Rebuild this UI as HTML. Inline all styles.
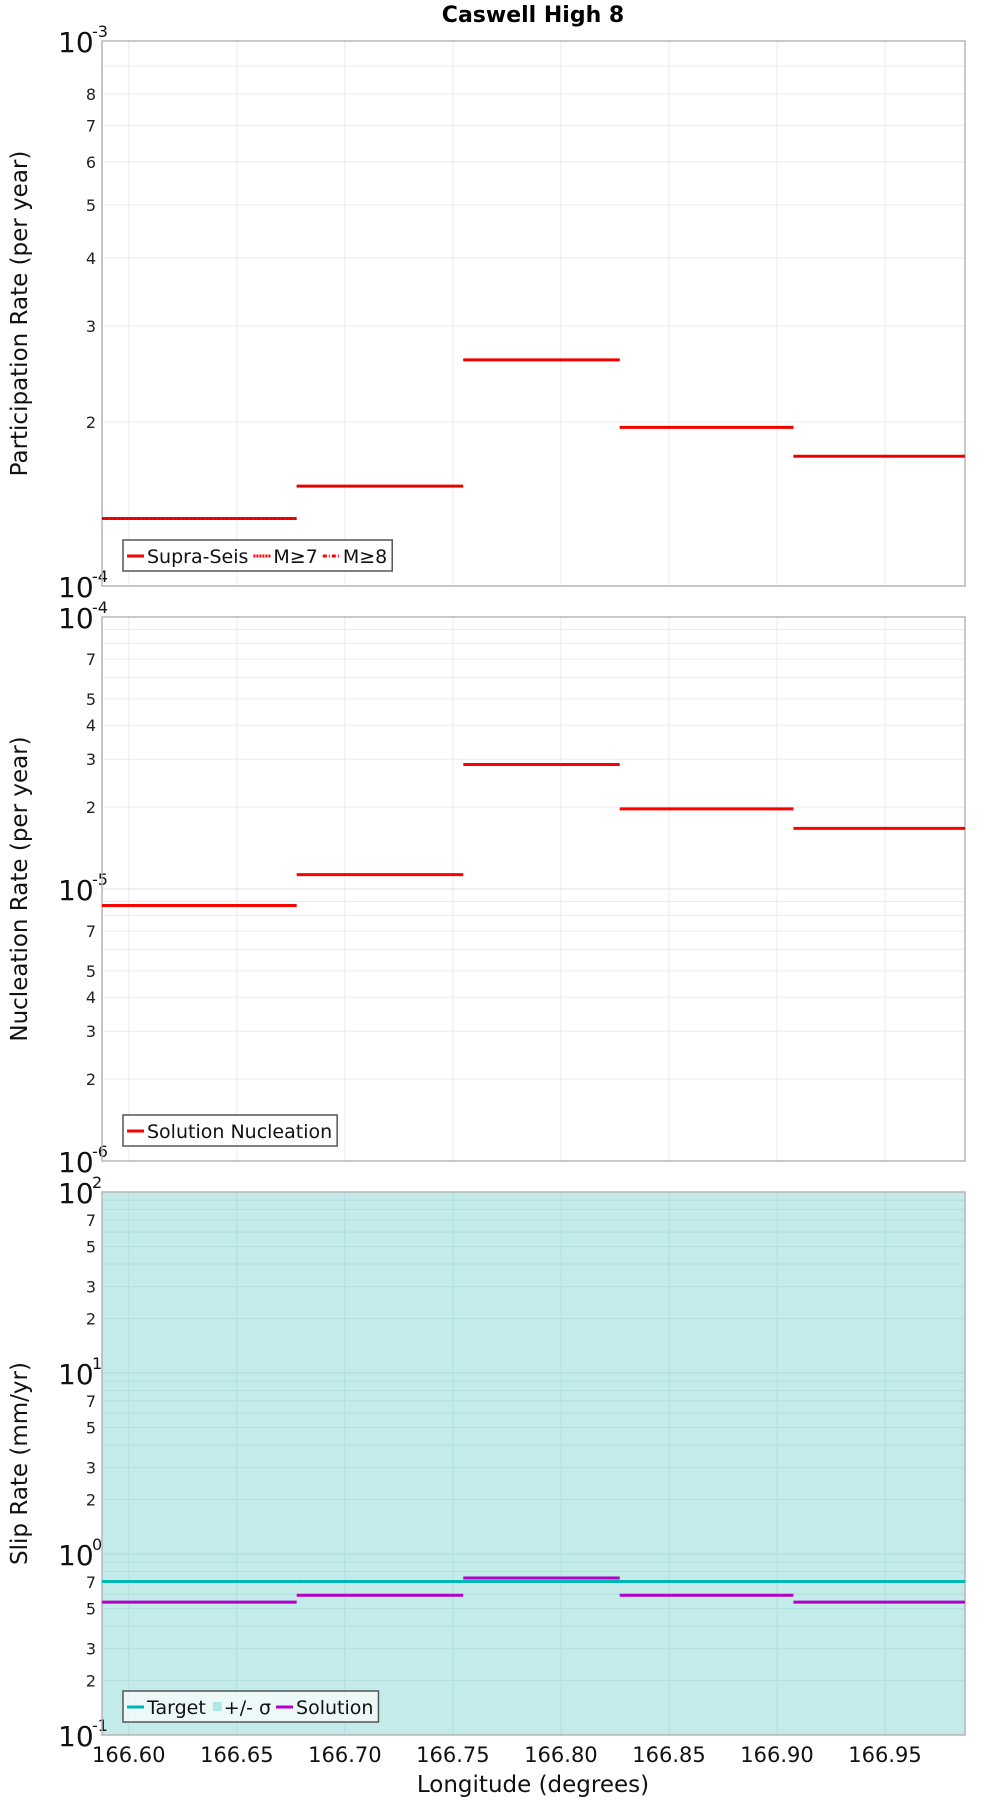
<!DOCTYPE html>
<html><head><meta charset="utf-8"><style>
body{margin:0;background:#fff;width:1000px;height:1800px;overflow:hidden}
svg{display:block;font-family:"DejaVu Sans","Liberation Sans",sans-serif}
</style></head><body>
<svg id="chart" width="1000" height="1800" viewBox="0 0 1000 1800" xmlns="http://www.w3.org/2000/svg">
<text x="533" y="22" text-anchor="middle" font-size="22" font-weight="bold" font-family="DejaVu Sans, sans-serif">Caswell High 8</text>
</svg>
<script>
const boundaries=[166.5876,166.6777,166.7548,166.8272,166.9076,166.987];
const partValues=[1.33e-4,1.525e-4,2.60e-4,1.955e-4,1.73e-4];
const nuclValues=[8.7e-6,1.13e-5,2.87e-5,1.97e-5,1.67e-5];
const slipTarget=[0.705,0.705,0.705,0.705,0.705];
const slipSolution=[0.542,0.592,0.737,0.592,0.542];
const xTicks=[166.60,166.65,166.70,166.75,166.80,166.85,166.90,166.95];
const xTickLabels=["166.60","166.65","166.70","166.75","166.80","166.85","166.90","166.95"];

const NS="http://www.w3.org/2000/svg";
const svg=document.getElementById('chart');
const L=102,R=965,X0=166.5876,X1=166.987;
function xs(v){return L+(v-X0)/(X1-X0)*(R-L);}
function mk(tag,attrs,parent){const e=document.createElementNS(NS,tag);for(const k in attrs)e.setAttribute(k,attrs[k]);(parent||svg).appendChild(e);return e;}

function panel(name,top,bot,e0,e1,labeled,bg,title){
  const ys=v=>bot-(Math.log10(v)-e0)/(e1-e0)*(bot-top);
  const g=mk('g',{});
  
  
  mk('rect',{x:L,y:top,width:R-L,height:bot-top,fill:bg},g);
  for(let e=e0;e<e1;e++){for(let m=1;m<10;m++){const v=m*Math.pow(10,e);const y=ys(v);
    if(m>1){const gl=mk('line',{x1:L,x2:R,y1:y,y2:y,stroke:bg=='#fff'?'#ebebeb':'#b3dedc','stroke-width':1},g);
      
      }
    if(m>1&&labeled.includes(m)){const t=mk('text',{x:96,y:y+6,'text-anchor':'end','font-size':16,fill:'#222'},g);t.textContent=m;
      
      }
  }}
  for(let e=e0;e<=e1;e++){const y=ys(Math.pow(10,e));
    if(e>e0&&e<e1){mk('line',{x1:L,x2:R,y1:y,y2:y,stroke:bg=='#fff'?'#e3e3e3':'#acd8d6'},g);}
    const t=mk('text',{x:58,y:y+11,'font-size':28,fill:'#111'},g);t.textContent='10';
    
    
    const s=mk('text',{x:92,y:y-4,'font-size':16,fill:'#111'},g);s.textContent=String(e);
  }
  for(const v of xTicks){const x=xs(v);const gl=mk('line',{x1:x,x2:x,y1:top,y2:bot,stroke:bg=='#fff'?'#ebebeb':'#b3dedc'},g);
    
    }
  const fr=mk('rect',{x:L,y:top,width:R-L,height:bot-top,fill:'none',stroke:'#b5b5b5','stroke-width':1.5},g);
  
  
  const cy=(top+bot)/2;
  const at=mk('text',{x:0,y:0,'font-size':23,'text-anchor':'middle',fill:'#111',transform:`translate(27,${cy}) rotate(-90)`},g);
  at.textContent=title;
  
  
  return {g,ys};
}
function steps(p,vals,color,w,name,dash){
  for(let i=0;i<vals.length;i++){const y=p.ys(vals[i]);
    const l=mk('line',{x1:xs(boundaries[i]),x2:xs(boundaries[i+1]),y1:y,y2:y,stroke:color,'stroke-width':w},p.g);
    if(dash)l.setAttribute('stroke-dasharray',dash);
    
    }
}
function legend(g,x,y,items,bgOp){
  const r=mk('rect',{x:x,y:y,width:10,height:31,fill:'#fff','fill-opacity':bgOp,stroke:'#555','stroke-width':1.5},g);
  
  
  let cx=x+4;
  for(const it of items){
    if(it.sq){mk('rect',{x:cx+2,y:y+11,width:9,height:9,fill:it.color},g);cx+=13;}
    else{const l=mk('line',{x1:cx,x2:cx+17,y1:y+16,y2:y+16,stroke:it.color,'stroke-width':3},g);if(it.dash)l.setAttribute('stroke-dasharray',it.dash);cx+=20;}
    const t=mk('text',{x:cx,y:y+23,'font-size':19,fill:'#111'},g);t.textContent=it.label;
    
    
    cx+=t.getComputedTextLength()+5;
  }
  r.setAttribute('width',cx-x);
}
const p1=panel('participation-panel',41,586,-4,-3,[2,3,4,5,6,7,8],'#fff','Participation Rate (per year)');
steps(p1,partValues,'#f00',3,'participation-step');
steps(p1,partValues,'#c00',1.5,'participation-m7-step','2,2');
legend(p1.g,123,540,[{color:'#f00',label:'Supra-Seis'},{color:'#f00',label:'M≥7',dash:'2,1'},{color:'#f00',label:'M≥8',dash:'4,2,1,2'}],1);

const p2=panel('nucleation-panel',617,1161,-6,-4,[2,3,4,5,7],'#fff','Nucleation Rate (per year)');
steps(p2,nuclValues,'#f00',3,'nucleation-step');
legend(p2.g,123,1115,[{color:'#f00',label:'Solution Nucleation'}],1);

const p3=panel('slip-rate-panel',1192,1735,-1,2,[2,3,5,7],'#c2ebe9','Slip Rate (mm/yr)');
steps(p3,slipTarget,'#00b5b5',3,'slip-target-step');
steps(p3,slipSolution,'#b300c8',3,'slip-solution-step');
legend(p3.g,123,1691,[{color:'#00b5b5',label:'Target'},{color:'#b0e6e4',label:'+/- σ',sq:true},{color:'#b300c8',label:'Solution'}],0.7);

for(let i=0;i<xTicks.length;i++){const t=mk('text',{x:xs(xTicks[i]),y:1762,'text-anchor':'middle','font-size':21,fill:'#111'});
  t.textContent=xTickLabels[i];
  
  }
const xt=mk('text',{x:533,y:1792,'text-anchor':'middle','font-size':23,fill:'#111'});
xt.textContent='Longitude (degrees)';


</script>
</body></html>
